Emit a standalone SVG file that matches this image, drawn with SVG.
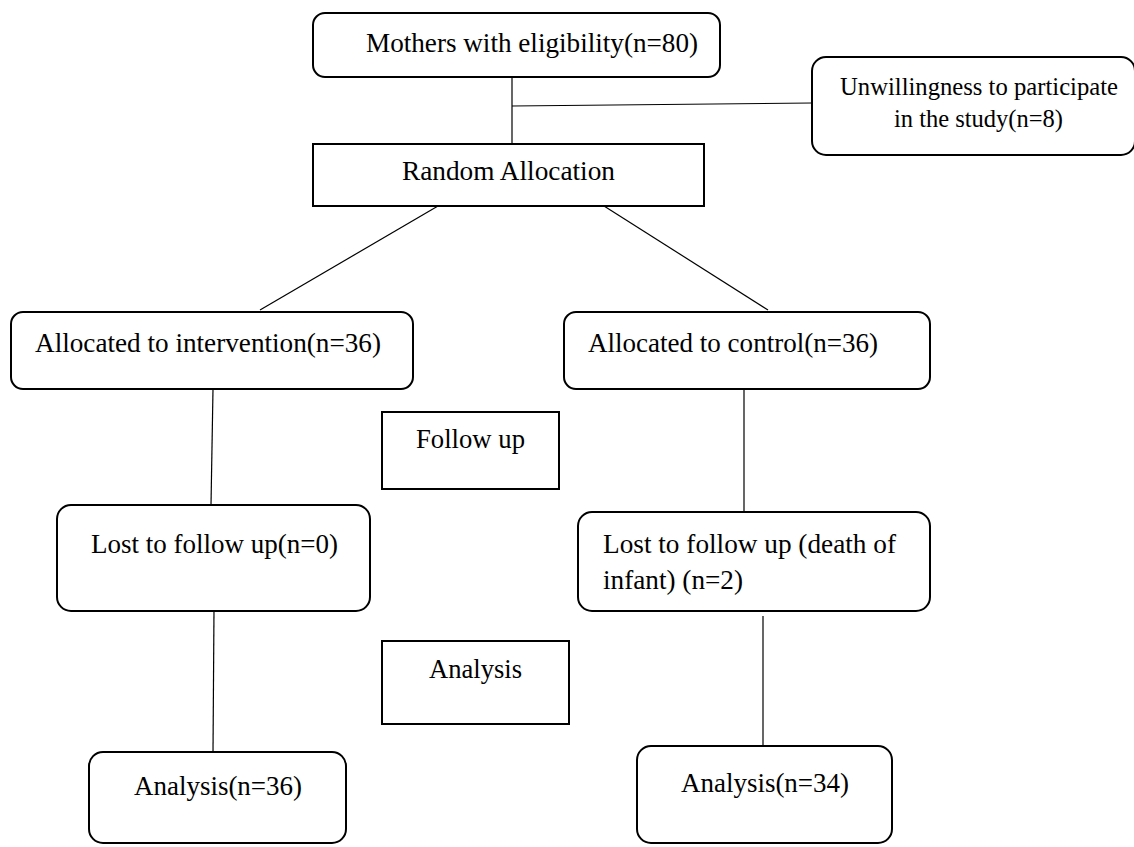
<svg xmlns="http://www.w3.org/2000/svg" width="1134" height="847" viewBox="0 0 1134 847">
<style>
.box{fill:#fff;stroke:#000;stroke-width:2}
.t{font-family:"Liberation Serif","Times New Roman",serif;font-size:27px;fill:#000}
.s{font-size:25px}
.c{stroke:#000;stroke-width:1.2;fill:none}
</style>
<rect width="1134" height="847" fill="#fff"/>
<g id="connectors">
<line class="c" x1="512" y1="77" x2="512" y2="144"/>
<line class="c" x1="512" y1="106" x2="812" y2="103"/>
<line class="c" x1="438" y1="206" x2="260" y2="310"/>
<line class="c" x1="604" y1="206" x2="768" y2="310"/>
<line class="c" x1="213" y1="389" x2="211" y2="505"/>
<line class="c" x1="214" y1="609" x2="213" y2="752"/>
<line class="c" x1="744" y1="389" x2="744" y2="512"/>
<line class="c" x1="763" y1="616" x2="763" y2="746"/>
</g>
<g id="eligible">
<rect class="box" x="313" y="13" width="407" height="64" rx="12"/>
<text class="t" x="366" y="52" textLength="332" lengthAdjust="spacingAndGlyphs">Mothers with eligibility(n=80)</text>
</g>
<g id="unwilling">
<rect class="box" x="812" y="57" width="323" height="98" rx="14"/>
<text class="t s" x="840" y="95" textLength="278" lengthAdjust="spacingAndGlyphs">Unwillingness to participate</text>
<text class="t s" x="894" y="127" textLength="169" lengthAdjust="spacingAndGlyphs">in the study(n=8)</text>
</g>
<g id="random">
<rect class="box" x="313" y="144" width="391" height="62"/>
<text class="t" x="402" y="180" textLength="213" lengthAdjust="spacingAndGlyphs">Random Allocation</text>
</g>
<g id="intervention">
<rect class="box" x="11" y="312" width="402" height="77" rx="12"/>
<text class="t" x="35" y="352" textLength="346" lengthAdjust="spacingAndGlyphs">Allocated to intervention(n=36)</text>
</g>
<g id="control">
<rect class="box" x="564" y="312" width="366" height="77" rx="12"/>
<text class="t" x="588" y="352" textLength="290" lengthAdjust="spacingAndGlyphs">Allocated to control(n=36)</text>
</g>
<g id="followup">
<rect class="box" x="382" y="412" width="177" height="77"/>
<text class="t" x="416" y="448" textLength="109" lengthAdjust="spacingAndGlyphs">Follow up</text>
</g>
<g id="lost0">
<rect class="box" x="57" y="505" width="313" height="106" rx="14"/>
<text class="t" x="91" y="553" textLength="247" lengthAdjust="spacingAndGlyphs">Lost to follow up(n=0)</text>
</g>
<g id="lost2">
<rect class="box" x="578" y="512" width="352" height="99" rx="14"/>
<text class="t" x="603" y="553" textLength="293" lengthAdjust="spacingAndGlyphs">Lost to follow up (death of</text>
<text class="t" x="603" y="589" textLength="140" lengthAdjust="spacingAndGlyphs">infant) (n=2)</text>
</g>
<g id="analysis">
<rect class="box" x="382" y="641" width="187" height="83"/>
<text class="t" x="429" y="678" textLength="93" lengthAdjust="spacingAndGlyphs">Analysis</text>
</g>
<g id="analysis36">
<rect class="box" x="89" y="752" width="257" height="91" rx="14"/>
<text class="t" x="134" y="795" textLength="168" lengthAdjust="spacingAndGlyphs">Analysis(n=36)</text>
</g>
<g id="analysis34">
<rect class="box" x="637" y="746" width="255" height="97" rx="14"/>
<text class="t" x="681" y="792" textLength="168" lengthAdjust="spacingAndGlyphs">Analysis(n=34)</text>
</g>
</svg>
